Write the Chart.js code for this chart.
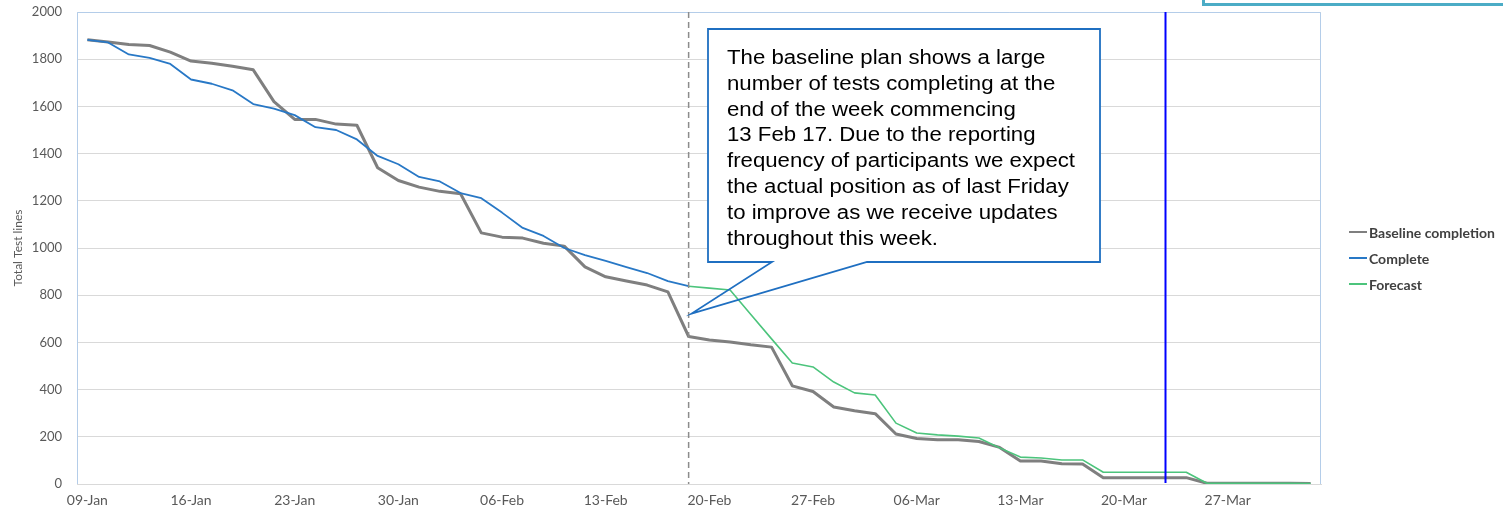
<!DOCTYPE html>
<html lang="en">
<head>
  <meta charset="UTF-8">
  <title>Test lines burn-down</title>
  <script src="https://cdn.jsdelivr.net/npm/chart.js"></script>
  <style>
    html, body { margin: 0; padding: 0; background: #fff; }
    body { width: 1503px; height: 514px; position: relative; overflow: hidden; font-family: Lato, sans-serif; }
    #chart { position: absolute; left: 0; top: 0; }
    .topbox { position: absolute; left: 1202px; top: -40px; width: 330px; height: 40px; border: 3px solid #4bacc6; }
    #legend { position: absolute; left: 1349px; top: 219px; }
    #legend .row { display: flex; align-items: center; height: 26px; font-weight: bold; font-size: 14px; color: #404040; white-space: nowrap; }
    #legend .sw { width: 18px; height: 2px; margin-right: 2px; }
  </style>
</head>
<body>
  <canvas id="chart" width="1503" height="514"></canvas>
  <div class="topbox"></div>
  <div id="legend"></div>

  <script>
    // working days, 09-Jan to 31-Mar
    const categories = [
      '09-Jan','10-Jan','11-Jan','12-Jan','13-Jan',
      '16-Jan','17-Jan','18-Jan','19-Jan','20-Jan',
      '23-Jan','24-Jan','25-Jan','26-Jan','27-Jan',
      '30-Jan','31-Jan','01-Feb','02-Feb','03-Feb',
      '06-Feb','07-Feb','08-Feb','09-Feb','10-Feb',
      '13-Feb','14-Feb','15-Feb','16-Feb','17-Feb',
      '20-Feb','21-Feb','22-Feb','23-Feb','24-Feb',
      '27-Feb','28-Feb','01-Mar','02-Mar','03-Mar',
      '06-Mar','07-Mar','08-Mar','09-Mar','10-Mar',
      '13-Mar','14-Mar','15-Mar','16-Mar','17-Mar',
      '20-Mar','21-Mar','22-Mar','23-Mar','24-Mar',
      '27-Mar','28-Mar','29-Mar','30-Mar','31-Mar'
    ];

    const baseline = [
      1882, 1873, 1862, 1858, 1830, 1792, 1783, 1770, 1755, 1620,
      1545, 1545, 1525, 1520, 1340, 1286, 1258, 1240, 1230, 1064,
      1046, 1042, 1020, 1008, 920, 878, 860, 843, 814, 625,
      610, 602, 590, 580, 416, 392, 326, 310, 298, 212,
      193, 188, 188, 180, 155, 97, 97, 86, 85, 27,
      27, 27, 27, 27, 3, 3, 3, 3, 3, 2
    ];

    const complete = [
      1882, 1871, 1820, 1806, 1780, 1714, 1696, 1668, 1610, 1591,
      1563, 1512, 1500, 1460, 1390, 1355, 1301, 1282, 1233, 1211,
      1150, 1085, 1051, 1000, 970, 945, 919, 894, 860, 838
    ];

    // forecast starts on the last actual day (17-Feb)
    const forecastFrom = '17-Feb';
    const forecast = [
      838, 830, 822, 718, 615, 513, 496, 432, 386, 377,
      258, 216, 208, 203, 195, 153, 114, 110, 102, 102,
      50, 50, 50, 50, 50, 3, 3, 3, 3, 3, 2
    ];

    const yTicks = [0, 200, 400, 600, 800, 1000, 1200, 1400, 1600, 1800, 2000];

    const lastFriday = '17-Feb';
    const statusDate = '22-Mar';
    const calloutTipValue = 722;

    const calloutLines = [
      'The baseline plan shows a large',
      'number of tests completing at the',
      'end of the week commencing',
      '13 Feb 17. Due to the reporting',
      'frequency of participants we expect',
      'the actual position as of last Friday',
      'to improve as we receive updates',
      'throughout this week.'
    ];

    const series = [
      { label: 'Baseline completion', color: '#7f7f7f', width: 3 },
      { label: 'Complete', color: '#2878c6', width: 1.8 },
      { label: 'Forecast', color: '#4cc47c', width: 1.6 }
    ];

    const start = categories.indexOf(forecastFrom);
    const forecastPts = forecast.map((v, i) => ({ x: categories[start + i], y: v }));

    const overlay = {
      id: 'overlay',
      beforeDatasetsDraw(chart) {
        const { ctx, chartArea: a } = chart;
        ctx.save();
        ctx.strokeStyle = '#b4cde9';
        ctx.lineWidth = 1;
        ctx.beginPath();
        ctx.moveTo(a.left + 0.5, a.bottom);
        ctx.lineTo(a.left + 0.5, a.top + 0.5);
        ctx.lineTo(a.right - 0.5, a.top + 0.5);
        ctx.lineTo(a.right - 0.5, a.bottom);
        ctx.stroke();
        ctx.restore();
      },
      afterDatasetsDraw(chart) {
        const { ctx, chartArea: a, scales: { x } } = chart;
        const xf = x.getPixelForValue(categories.indexOf(lastFriday));
        const xs = x.getPixelForValue(categories.indexOf(statusDate));
        ctx.save();
        ctx.strokeStyle = '#8c8c8c';
        ctx.lineWidth = 1.5;
        ctx.setLineDash([6, 4]);
        ctx.beginPath();
        ctx.moveTo(xf, a.top);
        ctx.lineTo(xf, a.bottom);
        ctx.stroke();
        ctx.setLineDash([]);
        ctx.strokeStyle = '#0000ff';
        ctx.lineWidth = 2;
        ctx.beginPath();
        ctx.moveTo(xs, a.top);
        ctx.lineTo(xs, a.bottom - 1);
        ctx.stroke();
        ctx.restore();
      },
      afterDraw(chart) {
        const { ctx, scales: { x, y } } = chart;
        const tipX = x.getPixelForValue(categories.indexOf(lastFriday)) + 3;
        const tipY = y.getPixelForValue(calloutTipValue);
        const L = 708, T = 29, R = 1100, B = 262, wl = 772, wr = 867;
        ctx.save();
        ctx.fillStyle = '#fff';
        ctx.fillRect(L, T, R - L, B - T);
        ctx.strokeStyle = '#1f6fc1';
        ctx.lineWidth = 1.8;
        ctx.beginPath();
        ctx.moveTo(wl, B);
        ctx.lineTo(L, B);
        ctx.lineTo(L, T);
        ctx.lineTo(R, T);
        ctx.lineTo(R, B);
        ctx.lineTo(wr, B);
        ctx.lineTo(tipX, tipY);
        ctx.closePath();
        ctx.stroke();

        ctx.fillStyle = '#000';
        ctx.font = '20px "Liberation Sans", Arial, sans-serif';
        ctx.textBaseline = 'alphabetic';
        calloutLines.forEach((line, i) => {
          ctx.save();
          ctx.translate(727, 64 + i * 25.8);
          ctx.scale(1.11, 1);
          ctx.fillText(line, 0, 0);
          ctx.restore();
        });
        ctx.restore();
      }
    };

    Chart.defaults.font.family = 'Lato, sans-serif';
    Chart.defaults.color = '#595959';

    new Chart(document.getElementById('chart'), {
      type: 'line',
      data: {
        labels: categories,
        datasets: [
          { label: series[0].label, data: baseline, borderColor: series[0].color, borderWidth: series[0].width, order: 3 },
          { label: series[1].label, data: complete, borderColor: series[1].color, borderWidth: series[1].width, order: 2 },
          { label: series[2].label, data: forecastPts, borderColor: series[2].color, borderWidth: series[2].width, order: 1 }
        ]
      },
      options: {
        responsive: false,
        animation: false,
        events: [],
        layout: { padding: { top: 12, right: 182, bottom: 0, left: 0 } },
        elements: {
          line: { tension: 0, fill: false, borderJoinStyle: 'round' },
          point: { radius: 0 }
        },
        plugins: {
          legend: { display: false },
          tooltip: { enabled: false }
        },
        scales: {
          x: {
            type: 'category',
            offset: true,
            grid: { display: false, drawTicks: false },
            border: { color: '#d9d9d9' },
            ticks: {
              autoSkip: false,
              maxRotation: 0,
              padding: 8,
              font: { size: 14 },
              callback: (v, i) => (i % 5 === 0 ? categories[i] : '')
            },
            afterFit: (s) => { s.height = 30; }
          },
          y: {
            min: 0,
            max: 2000,
            afterBuildTicks: (s) => { s.ticks = yTicks.map(v => ({ value: v })); },
            grid: { color: '#d9d9d9', drawTicks: true, tickLength: 12, tickColor: 'rgba(0,0,0,0)' },
            border: { display: false },
            ticks: { padding: 3, font: { size: 13 }, callback: (v) => String(v) },
            title: {
              display: true,
              text: 'Total Test lines',
              color: '#595959',
              font: { size: 12 },
              padding: { top: 11, bottom: 0 }
            },
            afterFit: (s) => { s.width = 77; }
          }
        }
      },
      plugins: [overlay]
    });

    const legend = document.getElementById('legend');
    series.forEach(s => {
      legend.innerHTML += `<div class="row"><span class="sw" style="background:${s.color}"></span>${s.label}</div>`;
    });
  </script>
</body>
</html>
